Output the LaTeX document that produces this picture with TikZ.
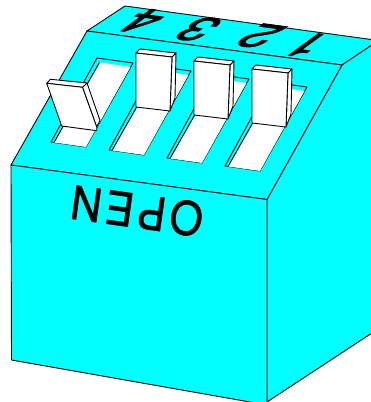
\documentclass[tikz,border=0pt]{standalone}
\usepackage{fontspec}
\newfontfamily\openfont[FakeBold=1.6,LetterSpace=10]{TeX Gyre Heros}
\newfontfamily\digitfont[FakeBold=2.6]{TeX Gyre Heros}
\definecolor{bodycyan}{HTML}{00FFFF}
\tikzset{
  facecell/.style={fill=bodycyan,draw=black,line width=0.9pt,line join=round},
  whitecell/.style={fill=white,draw=black,line width=0.9pt,line join=round},
  edgeline/.style={draw=black,line width=0.9pt},
  digitlabel/.style={inner sep=0pt,font=\digitfont\fontsize{50}{50}\selectfont,transform shape,cm={-1,0.135,-0.84,-0.61,(0,0)}},
  openlabel/.style={inner sep=0pt,font=\openfont\fontsize{46}{46}\selectfont,transform shape}
}
\begin{document}
\begin{tikzpicture}[x=1pt,y=-1pt]
\useasboundingbox (0,0) rectangle (371,402);
\clip (0,0) rectangle (371,402);
% body
\path[facecell] (125,6) -- (375,40) -- (375,43) -- (342,65) -- (87,31) -- cycle;
\path[facecell] (342,65) -- (375,43) -- (375,331) -- (267,402) -- (267,199.5) -- cycle;
\path[facecell] (87,31) -- (342,65) -- (267,199.5) -- (11,165) -- cycle;
\path[facecell] (11,165) -- (267,199.5) -- (267,405) -- (11.5,360) -- cycle;
% slots
\foreach \i in {0,1,2,3}{
\begin{scope}[shift={(-58*\i,-8*\i)}]
  \path[facecell] (225,166) -- (260,171) -- (307,87) -- (271,82) -- cycle;
  \fill[white] (228,166.5) -- (260,171) -- (304.5,91) -- (273.5,86.5) -- cycle;
  \draw[edgeline] (228,166.5) -- (273.5,86.5);
\end{scope}
}
% raised switches 1 to 3
\foreach \i in {0,1,2}{
\begin{scope}[shift={(-58*\i,-8*\i)}]
  \path[whitecell] (288,73) -- (292,69) -- (291,114) -- (286,127) -- cycle;
  \path[whitecell] (252,69) -- (256,65) -- (292,69) -- (288,73) -- cycle;
  \path[whitecell] (252,69) -- (288,73) -- (286,127) -- (252,123) -- cycle;
\end{scope}
}
% flipped switch 4
\path[whitecell] (82.5,87.3) -- (87,83) -- (100,120.5) -- (96.7,127) -- cycle;
\path[whitecell] (46.7,83.3) -- (50.5,79.3) -- (87,83) -- (82.5,87.3) -- cycle;
\path[whitecell] (46.7,83.3) -- (82.5,87.3) -- (96.7,127) -- (96.7,130.7) -- (61.7,126) -- cycle;
% labels
\node[openlabel,rotate=172,xscale=0.92] (open) at (137,211) {OPEN};
\node[digitlabel] (d4) at (143,21) {4};
\node[digitlabel] (d3) at (198,29) {3};
\node[digitlabel] (d2) at (260,36) {2};
\node[digitlabel] (d1) at (307,45) {1};
\end{tikzpicture}
\end{document}
